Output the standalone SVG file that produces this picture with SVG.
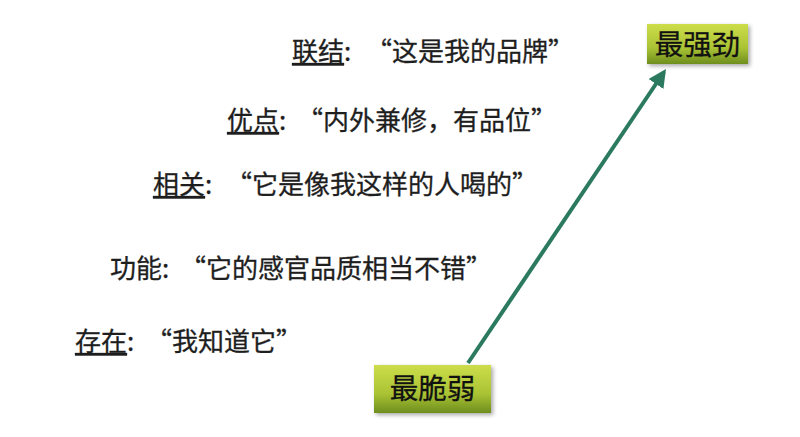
<svg xmlns="http://www.w3.org/2000/svg" width="800" height="437" viewBox="0 0 800 437">
<defs>
<linearGradient id="g" x1="0" y1="0" x2="0" y2="1">
<stop offset="0" stop-color="#cddd4a"/>
<stop offset="0.6" stop-color="#aac334"/>
<stop offset="1" stop-color="#6e8e1e"/>
</linearGradient>
<filter id="sh" x="-10%" y="-10%" width="130%" height="140%">
<feGaussianBlur in="SourceAlpha" stdDeviation="2"/>
<feOffset dx="2" dy="2"/>
<feComponentTransfer><feFuncA type="linear" slope="0.35"/></feComponentTransfer>
<feMerge><feMergeNode/><feMergeNode in="SourceGraphic"/></feMerge>
</filter>
<marker id="ah" viewBox="0 0 10 10" refX="8" refY="5" markerWidth="4.5" markerHeight="4.5" orient="auto" markerUnits="strokeWidth">
<path d="M0,0 L10,5 L0,10 z" fill="#2b7a5f"/>
</marker>
</defs>
<style>
.t{font-family:"Noto Sans CJK SC","Noto Sans",sans-serif;font-size:26px;fill:#1e1e1e;stroke:#1e1e1e;stroke-width:0.3px;}
.u{text-decoration:underline;}
.b{font-family:"Noto Sans CJK SC","Noto Sans",sans-serif;font-size:28.5px;fill:#111;stroke:#111;stroke-width:0.3px;text-anchor:middle;}
.box{fill:url(#g);filter:url(#sh);}
</style>
<rect width="800" height="437" fill="#ffffff"/>
<g id="l5"><text class="t" x="292" y="61"><tspan class="u">联结</tspan>:<tspan x="366">“这是我的品牌”</tspan></text></g>
<g id="l4"><text class="t" x="227" y="130"><tspan class="u">优点</tspan>:<tspan x="297">“内外兼修，有品位”</tspan></text></g>
<g id="l3"><text class="t" x="153" y="194"><tspan class="u">相关</tspan>:<tspan x="226">“它是像我这样的人喝的”</tspan></text></g>
<g id="l2"><text class="t" x="110" y="278">功能:<tspan x="180">“它的感官品质相当不错”</tspan></text></g>
<g id="l1"><text class="t" x="75" y="351"><tspan class="u">存在</tspan>:<tspan x="146">“我知道它”</tspan></text></g>
<g id="connectors">
<line x1="468" y1="363" x2="664" y2="72" stroke="#2b7a5f" stroke-width="4" marker-end="url(#ah)"/>
</g>
<g id="weak"><rect class="box" x="374" y="365" width="117" height="48"/><text class="b" x="432.5" y="399">最脆弱</text></g>
<g id="strong"><rect class="box" x="647" y="24" width="101" height="40"/><text class="b" x="697.5" y="55">最强劲</text></g>
</svg>
